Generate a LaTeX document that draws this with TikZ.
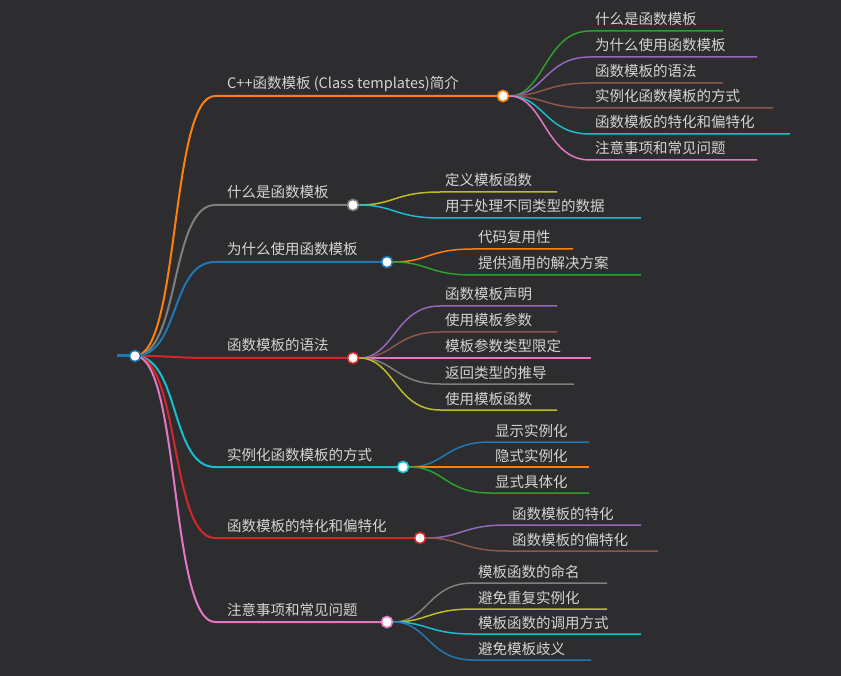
\documentclass[tikz,border=0pt]{standalone}
\usepackage{fontspec}
\setmainfont{Noto Sans CJK SC}
\definecolor{bg}{HTML}{2D2D30}
\definecolor{tx}{HTML}{D4D4D4}
\definecolor{cO}{HTML}{FF7F0E}\definecolor{cG}{HTML}{7F7F7F}\definecolor{cB}{HTML}{1F77B4}
\definecolor{cR}{HTML}{D62728}\definecolor{cC}{HTML}{17BECF}\definecolor{cP}{HTML}{E377C2}
\definecolor{cN}{HTML}{2CA02C}\definecolor{cV}{HTML}{9467BD}\definecolor{cW}{HTML}{8C564B}
\definecolor{cY}{HTML}{BCBD22}
\begin{document}
\begin{tikzpicture}[x=1pt,y=-1pt,
  lbl/.style={text=tx,font=\fontsize{14.5}{16}\selectfont,anchor=base west,inner sep=0pt},
  dot/.style={circle,draw=#1,fill=white,line width=1.5pt,minimum size=11pt,inner sep=0pt},
  b1/.style={draw=#1,line width=2pt},
  b2/.style={draw=#1,line width=1.5pt}]
\fill[bg] (0,0) rectangle (841,676);
\useasboundingbox (0,0) rectangle (841,676);
\coordinate (rs) at (117,356);
\draw[cB,line width=3pt] (rs) -- (135,356);
% level 1
\foreach \n/\y/\cx/\c/\t in {
 a/96/503/cO/{C++函数模板 (Class templates)简介},
 b/205/353/cG/{什么是函数模板},
 c/262/387/cB/{为什么使用函数模板},
 d/358/353/cR/{函数模板的语法},
 e/467/403/cC/{实例化函数模板的方式},
 f/538/420/cR/{函数模板的特化和偏特化},
 g/622/387/cP/{注意事项和常见问题}}{
 \coordinate (\n s) at (215,\y);
 \node[dot=\c] (\n) at (\cx,\y) {};
 \draw[b1=\c] (135,356) .. controls (180,356) and (170,\y) .. (\n s) -- (\n);
 \node[lbl] (\n t) at (227,\y-7) {\t};
}
\node[dot=cB] (root) at (135,356) {};
% level 2
\foreach \p/\k/\y/\sx/\ex/\c/\t in {
 a/1/31/590/723/cN/什么是函数模板,
 a/2/57/590/757/cV/为什么使用函数模板,
 a/3/83/590/723/cW/函数模板的语法,
 a/4/108/590/773/cW/实例化函数模板的方式,
 a/5/134/590/790/cC/函数模板的特化和偏特化,
 a/6/160/590/757/cP/注意事项和常见问题,
 b/1/192/440/557/cY/定义模板函数,
 b/2/218/440/641/cC/用于处理不同类型的数据,
 c/1/249/473/573/cO/代码复用性,
 c/2/275/473/641/cN/提供通用的解决方案,
 d/1/306/440/557/cV/函数模板声明,
 d/2/332/440/557/cW/使用模板参数,
 d/3/358/440/591/cP/模板参数类型限定,
 d/4/384/440/574/cG/返回类型的推导,
 d/5/410/440/557/cY/使用模板函数,
 e/1/442/490/589/cB/显示实例化,
 e/2/467/490/589/cO/隐式实例化,
 e/3/493/490/589/cN/显式具体化,
 f/1/525/507/641/cV/函数模板的特化,
 f/2/551/507/658/cW/函数模板的偏特化,
 g/1/583/473/607/cG/模板函数的命名,
 g/2/609/473/607/cY/避免重复实例化,
 g/3/634/473/641/cC/模板函数的调用方式,
 g/4/660/473/591/cB/避免模板歧义}{
 \coordinate (\p\k s) at (\sx,\y);
 \coordinate (\p\k e) at (\ex,\y);
 \draw[b2=\c] (\p.east) .. controls ([xshift=35pt]\p.east) and ([xshift=-45pt]\p\k s) .. (\p\k s) -- (\p\k e);
 \node[lbl] (\p\k t) at (\sx+5,\y-6) {\t};
}
\node[dot=cO] at (a) {};\node[dot=cG] at (b) {};\node[dot=cB] at (c) {};
\node[dot=cR] at (d) {};\node[dot=cC] at (e) {};\node[dot=cR] at (f) {};\node[dot=cP] at (g) {};
\end{tikzpicture}
\end{document}
